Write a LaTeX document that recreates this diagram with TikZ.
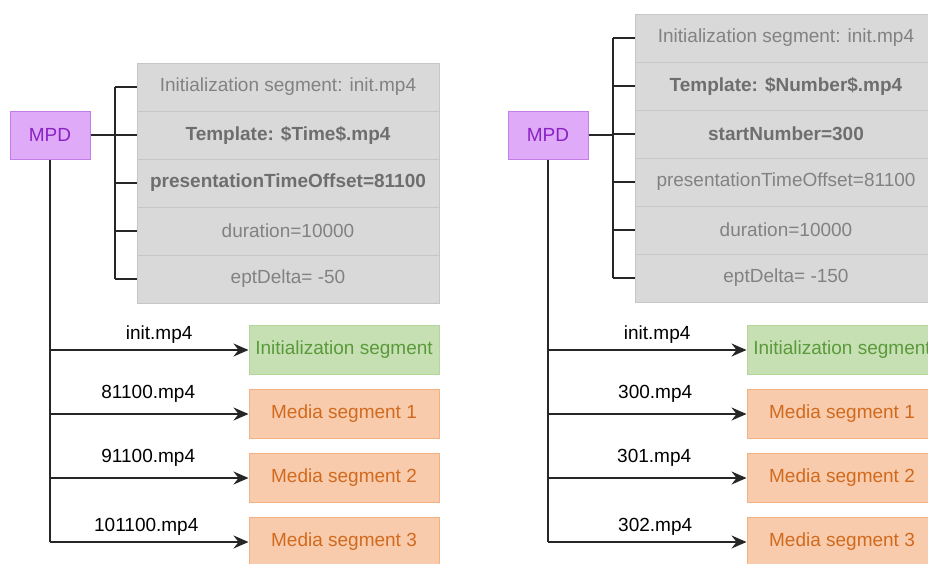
\documentclass[tikz,border=0pt]{standalone}
\usepackage{fontspec}
\setmainfont{Liberation Sans}
\usetikzlibrary{arrows.meta}
\definecolor{rowfill}{HTML}{D9D9D9}
\definecolor{rowline}{HTML}{C6C6C6}
\definecolor{rowtext}{HTML}{828282}
\definecolor{rowbold}{HTML}{6E6E6E}
\definecolor{mpdfill}{HTML}{DFAAF7}
\definecolor{mpdline}{HTML}{C47EE8}
\definecolor{mpdtext}{HTML}{8A22C4}
\definecolor{grnfill}{HTML}{C6E0B4}
\definecolor{grnline}{HTML}{B3D79B}
\definecolor{grntext}{HTML}{5A9A3A}
\definecolor{orgfill}{HTML}{F8CBAD}
\definecolor{orgline}{HTML}{F4B183}
\definecolor{orgtext}{HTML}{D26A1E}
\tikzset{
  every node/.style={font=\fontsize{19}{22}\selectfont},
  row/.style={rectangle, fill=rowfill, draw=rowline, line width=1pt,
    minimum width=302pt, minimum height=48pt, inner sep=2pt, text=rowtext},
  rowb/.style={row, text=rowbold, font=\fontsize{19}{22}\selectfont\bfseries},
  mpd/.style={rectangle, fill=mpdfill, draw=mpdline, line width=1pt,
    minimum width=80pt, minimum height=48pt, inner sep=2pt, text=mpdtext},
  initseg/.style={rectangle, fill=grnfill, draw=grnline, line width=1pt,
    minimum width=190pt, minimum height=49pt, inner sep=2pt, text=grntext},
  mediaseg/.style={rectangle, fill=orgfill, draw=orgline, line width=1pt,
    minimum width=190pt, minimum height=49pt, inner sep=2pt, text=orgtext},
  conn/.style={draw=black!85, line width=1.5pt},
  arr/.style={conn, -{Stealth[length=15pt, width=13pt, inset=5pt]}},
  lbl/.style={text=black, inner sep=0pt}
}
\begin{document}
\begin{tikzpicture}[x=1pt, y=-1pt]
\clip (0,0) rectangle (928,563);
\fill[white] (0,0) rectangle (928,563);

% ---------------- left diagram ----------------
\node[mpd] (mpdL) at (50,135) {MPD};
\node[row]  (L0) at (288,87)  {Initialization segment: init.mp4};
\node[rowb] (L1) at (288,135) {Template: \$Time\$.mp4};
\node[rowb] (L2) at (288,183) {presentationTimeOffset=81100};
\node[row]  (L3) at (288,231) {duration=10000};
\node[row]  (L4) at (288,279) {eptDelta= -50};
\coordinate (bL) at (115,87);

\node[initseg]  (iL)  at (344,350) {Initialization segment};
\node[mediaseg] (m1L) at (344,414) {Media segment 1};
\node[mediaseg] (m2L) at (344,478) {Media segment 2};
\node[mediaseg] (m3L) at (344,542) {Media segment 3};

\draw[conn] (L0.west -| bL) -- (L4.west -| bL);
\foreach \r in {L0,L1,L2,L3,L4} \draw[conn] (\r.west -| bL) -- (\r.west);
\draw[conn] (mpdL.east) -- (mpdL.east -| bL);
\draw[conn] (mpdL.south) -- (mpdL.south |- m3L.west);
\draw[arr] (mpdL.south |- iL.west) -- node[lbl, pos=0.55, yshift=15pt] {init.mp4} (iL.west);
\draw[arr] (mpdL.south |- m1L.west) -- node[lbl, pos=0.495, yshift=20pt] {81100.mp4} (m1L.west);
\draw[arr] (mpdL.south |- m2L.west) -- node[lbl, pos=0.495, yshift=20pt] {91100.mp4} (m2L.west);
\draw[arr] (mpdL.south |- m3L.west) -- node[lbl, pos=0.485, yshift=15pt] {101100.mp4} (m3L.west);

% ---------------- right diagram ----------------
\node[mpd] (mpdR) at (548,135) {MPD};
\node[row]  (R0) at (786,38)  {Initialization segment: init.mp4};
\node[rowb] (R1) at (786,86)  {Template: \$Number\$.mp4};
\node[rowb] (R2) at (786,134) {startNumber=300};
\node[row]  (R3) at (786,182) {presentationTimeOffset=81100};
\node[row]  (R4) at (786,230) {duration=10000};
\node[row]  (R5) at (786,278) {eptDelta= -150};
\coordinate (bR) at (613,38);

\node[initseg]  (iR)  at (842,350) {Initialization segment};
\node[mediaseg] (m1R) at (842,414) {Media segment 1};
\node[mediaseg] (m2R) at (842,478) {Media segment 2};
\node[mediaseg] (m3R) at (842,542) {Media segment 3};

\draw[conn] (R0.west -| bR) -- (R5.west -| bR);
\foreach \r in {R0,R1,R2,R3,R4,R5} \draw[conn] (\r.west -| bR) -- (\r.west);
\draw[conn] (mpdR.east) -- (mpdR.east -| bR);
\draw[conn] (mpdR.south) -- (mpdR.south |- m3R.west);
\draw[arr] (mpdR.south |- iR.west) -- node[lbl, pos=0.55, yshift=15pt] {init.mp4} (iR.west);
\draw[arr] (mpdR.south |- m1R.west) -- node[lbl, pos=0.54, yshift=20pt] {300.mp4} (m1R.west);
\draw[arr] (mpdR.south |- m2R.west) -- node[lbl, pos=0.535, yshift=20pt] {301.mp4} (m2R.west);
\draw[arr] (mpdR.south |- m3R.west) -- node[lbl, pos=0.54, yshift=15pt] {302.mp4} (m3R.west);
\end{tikzpicture}
\end{document}
